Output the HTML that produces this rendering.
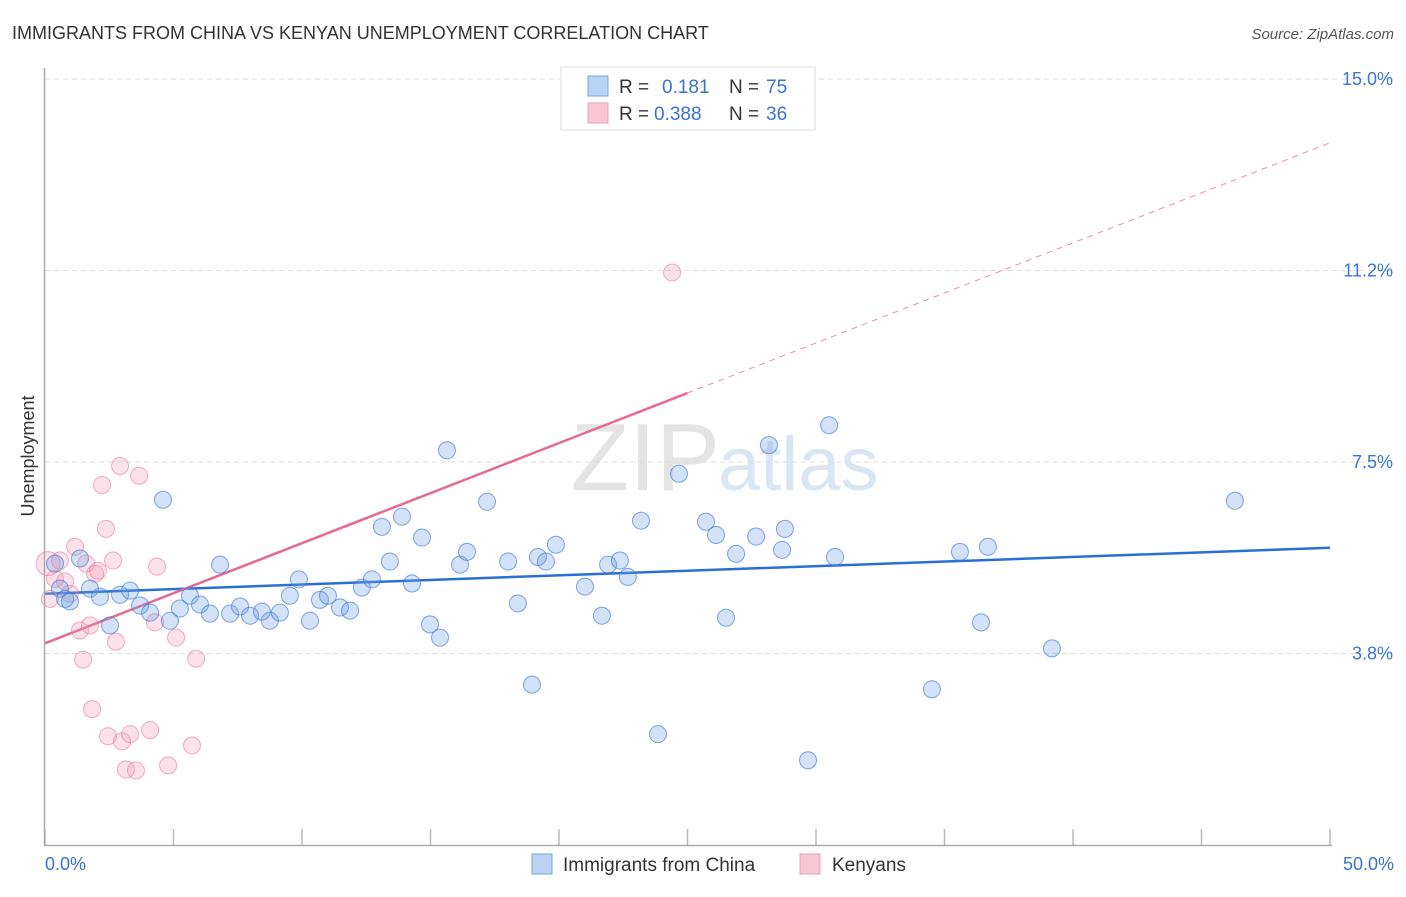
<!DOCTYPE html>
<html><head><meta charset="utf-8"><style>
body{margin:0;background:#fff;font-family:"Liberation Sans",sans-serif;}
svg text{font-family:"Liberation Sans",sans-serif;}
</style></head><body>
<svg id="chart" width="1406" height="892">
<text x="12" y="39" font-size="18" fill="#333">IMMIGRANTS FROM CHINA VS KENYAN UNEMPLOYMENT CORRELATION CHART</text>
<text x="1394" y="39" font-size="15" fill="#555" text-anchor="end" font-style="italic">Source: ZipAtlas.com</text>
<text x="720" y="490" font-size="96" fill="#e4e4e4" text-anchor="end" font-family="Liberation Serif">ZIP</text>
<text x="718" y="490" font-size="76" fill="#dbe6f4">atlas</text>
<text x="34" y="456" font-size="18" fill="#333" text-anchor="middle" transform="rotate(-90 34 456)">Unemployment</text>
<g id="grid"></g><g id="ticks"></g><g id="lines"></g><g id="pts"></g>
<line x1="44.5" y1="68" x2="44.5" y2="846" stroke="#aaa" stroke-width="1.5"/>
<line x1="44" y1="845.5" x2="1332" y2="845.5" stroke="#aaa" stroke-width="1.5"/>
<text x="45" y="870" font-size="18" fill="#3b73d1">0.0%</text>
<text x="1394" y="870" font-size="18" fill="#3b73d1" text-anchor="end">50.0%</text>
<g>
<rect x="561" y="67" width="254" height="63" fill="#fff" stroke="#ddd"/>
<rect x="588" y="76" width="20" height="20" fill="#b9d3f5" stroke="#7aa6e0"/>
<text x="619" y="93" font-size="19" fill="#333">R = </text><text x="662" y="93" font-size="19" fill="#3b73d1">0.181</text>
<text x="729" y="93" font-size="19" fill="#333">N = </text><text x="766" y="93" font-size="19" fill="#3b73d1">75</text>
<rect x="588" y="103" width="20" height="20" fill="#f8c6d5" stroke="#eea0b8"/>
<text x="619" y="120" font-size="19" fill="#333">R = </text><text x="654" y="120" font-size="19" fill="#3b73d1">0.388</text>
<text x="729" y="120" font-size="19" fill="#333">N = </text><text x="766" y="120" font-size="19" fill="#3b73d1">36</text>
</g>
<g>
<rect x="532" y="854" width="20" height="20" fill="#b9d3f5" stroke="#7aa6e0"/>
<text x="563" y="871" font-size="19" fill="#333">Immigrants from China</text>
<rect x="800" y="854" width="20" height="20" fill="#f8c6d5" stroke="#eea0b8"/>
<text x="832" y="871" font-size="19" fill="#333">Kenyans</text>
</g>
</svg>
<script>
const yTicks=[15.0,11.25,7.5,3.75];
const yTickLabels=["15.0%","11.2%","7.5%","3.8%"];
const xTicks=[0,5,10,15,20,25,30,35,40,45,50];
const blueX=[0.39,0.58,0.78,0.97,1.36,1.75,2.14,2.53,2.92,3.31,3.70,4.09,4.59,4.86,5.25,5.64,6.03,6.42,6.81,7.20,7.59,7.98,8.44,8.75,9.14,9.53,9.88,10.31,10.70,11.01,11.48,11.87,12.33,12.72,13.11,13.42,13.89,14.28,14.67,14.98,15.37,15.64,16.15,16.42,17.20,18.02,18.40,18.95,19.18,19.49,19.88,21.01,21.67,21.91,22.37,22.68,23.19,23.85,24.67,25.72,26.11,26.50,26.89,27.67,28.17,28.68,28.79,29.69,30.51,30.74,34.51,35.60,36.42,36.69,39.18,46.30];
const blueY=[5.51,5.02,4.82,4.77,5.61,5.02,4.86,4.30,4.90,4.98,4.69,4.55,6.76,4.39,4.63,4.88,4.71,4.53,5.49,4.53,4.67,4.49,4.57,4.39,4.55,4.88,5.20,4.39,4.80,4.88,4.65,4.59,5.04,5.20,6.23,5.55,6.43,5.12,6.02,4.32,4.06,7.73,5.49,5.74,6.72,5.55,4.73,3.14,5.64,5.55,5.88,5.06,4.49,5.49,5.57,5.25,6.35,2.17,7.27,6.33,6.07,4.45,5.70,6.04,7.83,5.78,6.19,1.66,8.22,5.64,3.05,5.74,4.36,5.84,3.85,6.74];
const pinkX=[0.12,0.19,0.39,0.58,0.78,0.97,1.17,1.36,1.48,1.60,1.75,1.83,1.95,2.06,2.22,2.37,2.45,2.65,2.76,3.00,3.15,3.31,3.54,3.66,4.09,4.28,4.36,4.79,5.10,5.72,5.88,24.40,2.92];
const pinkY=[5.51,4.82,5.21,5.57,5.16,4.92,5.84,4.20,3.63,5.51,4.30,2.66,5.31,5.37,7.05,6.19,2.13,5.57,3.98,2.03,1.48,2.17,1.46,7.23,2.25,4.36,5.45,1.56,4.06,1.95,3.65,11.21,7.42];
const blueTrend=[4.92,5.82];
const pinkTrend=[3.95,13.75];
const pinkSolidEnd=25;
const X=v=>45+v*25.7, Y=v=>845-v*51.07;
const NS="http://www.w3.org/2000/svg";
function mk(tag,attrs,parent){const e=document.createElementNS(NS,tag);for(const k in attrs)e.setAttribute(k,attrs[k]);document.getElementById(parent).appendChild(e);return e;}
yTicks.forEach((t,i)=>{
 const l=mk('line',{x1:45,x2:1392,y1:Y(t),y2:Y(t),stroke:'#ddd','stroke-dasharray':'5,4'},'grid');
 
 
 const tx=mk('text',{x:1393,y:Y(t)+6,'font-size':18,fill:'#3b73d1','text-anchor':'end'},'grid');
 tx.textContent=yTickLabels[i];
 
 
});
xTicks.forEach(t=>{
 const l=mk('line',{x1:X(t),x2:X(t),y1:829,y2:845,stroke:'#bbb','stroke-width':1.5},'ticks');
 
 
});
function line(x1,y1,x2,y2,c,dash,name,w){const l=mk('line',{x1:X(x1),y1:Y(y1),x2:X(x2),y2:Y(y2),stroke:c,'stroke-width':w},'lines');if(dash)l.setAttribute('stroke-dasharray',dash);}
const pAt=x=>pinkTrend[0]+(pinkTrend[1]-pinkTrend[0])*x/50;
function pts(xs,ys,fill,stroke,name){xs.forEach((x,i)=>{const c=mk('circle',{cx:X(x),cy:Y(ys[i]),r:(i===0&&name==='pink-point')?12:8.5,fill:fill,stroke:stroke,'stroke-width':1},'pts');});}
pts(pinkX,pinkY,'rgba(242,150,180,0.28)','rgba(232,120,155,0.6)','pink-point');
pts(blueX,blueY,'rgba(110,160,230,0.3)','rgba(60,120,210,0.65)','blue-point');
line(0,blueTrend[0],50,blueTrend[1],'#2a6fd6',null,'china-trend-line',2.5);
line(0,pinkTrend[0],pinkSolidEnd,pAt(pinkSolidEnd),'#e46a92',null,'kenyan-trend-line',2.5);
line(pinkSolidEnd,pAt(pinkSolidEnd),50,pinkTrend[1],'#eaa0b8','6,5','kenyan-trend-extension',1.2);
</script>
</body></html>
